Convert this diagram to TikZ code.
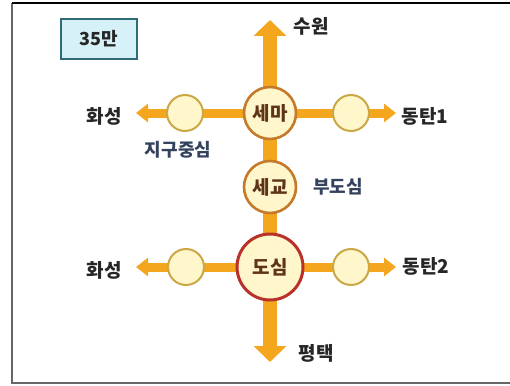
\documentclass[tikz,border=0pt]{standalone}
\usepackage{fontspec}
\newfontfamily\kr{Noto Sans CJK KR}
\usetikzlibrary{arrows.meta}
\pgfdeclarelayer{background}
\pgfsetlayers{background,main}
\definecolor{arr}{HTML}{F4A71E}
\definecolor{cfill}{HTML}{FFF6CC}
\definecolor{smallring}{HTML}{C9A845}
\definecolor{midring}{HTML}{C47A2A}
\definecolor{redring}{HTML}{B8322A}
\definecolor{intext}{HTML}{5E3418}
\definecolor{bluetext}{HTML}{34425E}
\definecolor{boxfill}{HTML}{D6F1F7}
\definecolor{boxline}{HTML}{2E6B74}
\tikzset{
  place/.style={font=\kr\bfseries\fontsize{19}{19}\selectfont, text=black!85},
  note/.style={font=\kr\bfseries\fontsize{18}{18}\selectfont, text=bluetext},
  hub/.style={circle, fill=cfill, line width=2.6pt, minimum size=52pt, inner sep=0pt,
    font=\kr\bfseries\fontsize{19}{19}\selectfont, text=intext},
  small/.style={circle, fill=cfill, draw=smallring, line width=2pt, minimum size=36pt, inner sep=0pt},
  vbar/.style={arr, line width=14pt},
  hbar/.style={arr, line width=9pt},
  varrow/.style={arr, line width=14pt, -{Triangle[width=32pt,length=16pt]}},
  harrow/.style={arr, line width=9pt, -{Triangle[width=18pt,length=12pt]}},
}
\begin{document}
\begin{tikzpicture}[x=1pt,y=-1pt]
\useasboundingbox (0,0) rectangle (510,385);
% frame
\draw[black!60, line width=1.5pt] (12,3) -- (12,383) -- (510,383);
\draw[black, line width=2pt] (12,3) -- (510,3);
% count box
\node[draw=boxline, fill=boxfill, line width=2pt, minimum width=76pt, minimum height=40pt,
  font=\kr\bfseries\fontsize{18}{18}\selectfont, text=black!85] (cnt) at (98.5,39) {35만};
% hubs
\node[hub, draw=midring] (sema) at (270,113) {세마};
\node[hub, draw=midring] (segyo) at (270,187) {세교};
\node[hub, draw=redring, line width=3pt, minimum size=66pt] (dosim) at (270,267) {도심};
\node[small] (l1) at (185,113) {};
\node[small] (r1) at (351,113) {};
\node[small] (l2) at (186,267) {};
\node[small] (r2) at (351,267) {};
% arrow ends
\coordinate (top) at (270,20);
\coordinate (bot) at (270,362);
\coordinate (lt) at (136,113);
\coordinate (rt) at (396,113);
\coordinate (lb) at (136,267);
\coordinate (rb) at (396,267);
\begin{pgfonlayer}{background}
\draw[varrow] (sema.center) -- (top);
\draw[varrow] (dosim.center) -- (bot);
\draw[vbar] (sema.center) -- (segyo.center) -- (dosim.center);
\draw[hbar] (l1.center) -- (sema.center) -- (r1.center);
\draw[hbar] (l2.center) -- (dosim.center) -- (r2.center);
\draw[harrow] (l1.center) -- (lt);
\draw[harrow] (r1.center) -- (rt);
\draw[harrow] (l2.center) -- (lb);
\draw[harrow] (r2.center) -- (rb);
\end{pgfonlayer}
% labels
\node[place] (suwon) at (311,26) {수원};
\node[place] (hw1) at (104,116) {화성};
\node[note] (jigu) at (178,150) {지구중심};
\node[place] (dt1) at (425,116) {동탄1};
\node[note] (budo) at (338,187) {부도심};
\node[place] (hw2) at (104,270) {화성};
\node[place] (dt2) at (426,266) {동탄2};
\node[place] (pt) at (316,353) {평택};
\end{tikzpicture}
\end{document}
